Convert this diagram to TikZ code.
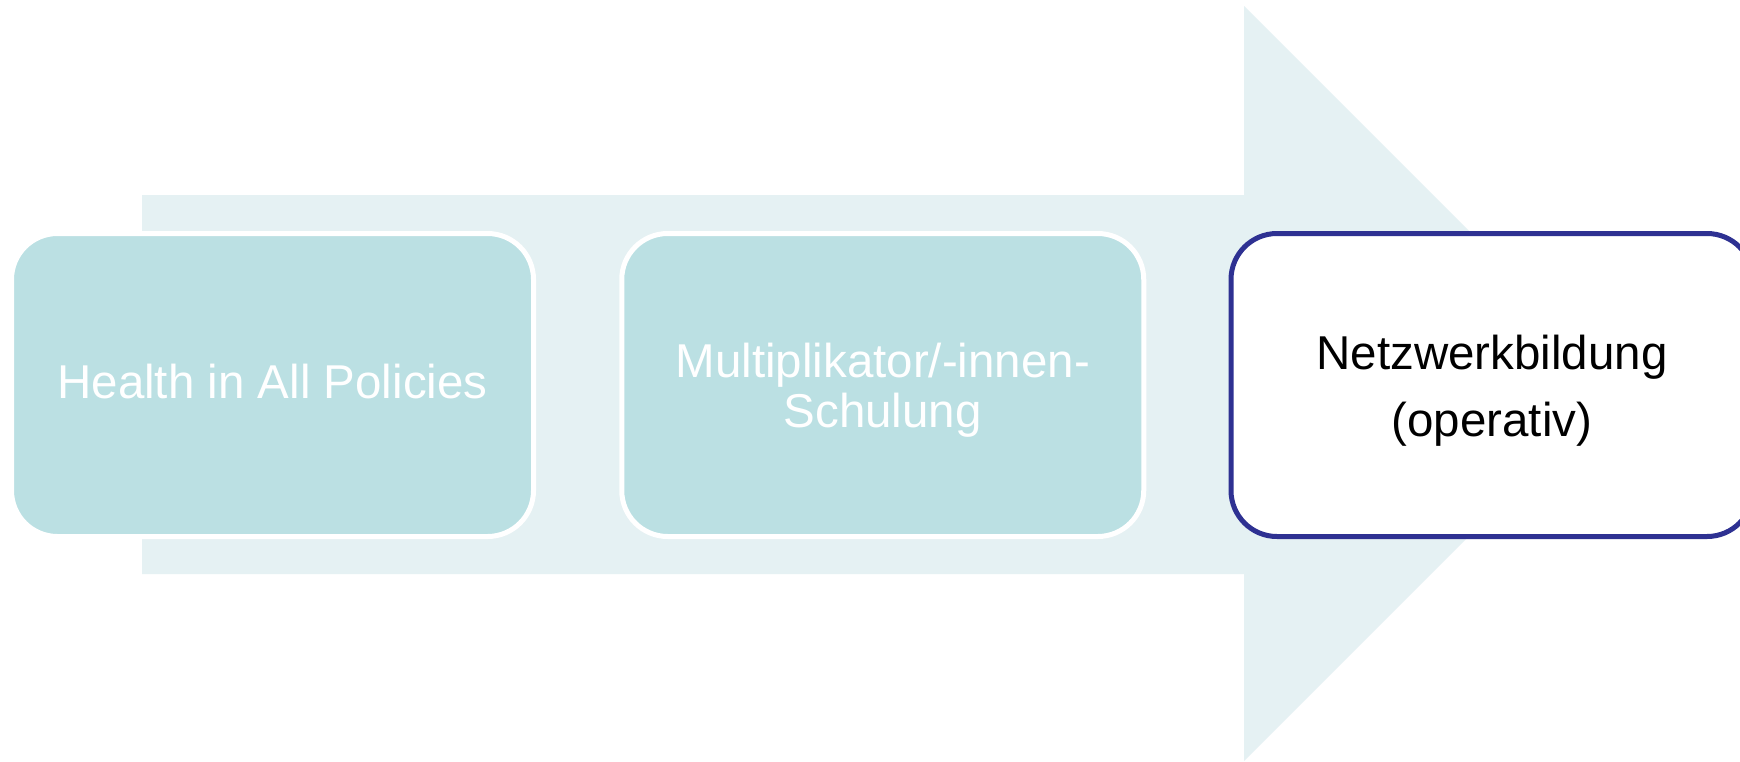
\documentclass[tikz,border=0pt]{standalone}
\usepackage{fontspec}
\setmainfont{Liberation Sans}
\definecolor{arrowfill}{HTML}{E5F1F3}
\definecolor{stepfill}{HTML}{BBE0E3}
\definecolor{activeline}{HTML}{2E3192}
\tikzset{
  procbox/.style={rectangle, rounded corners=46pt, minimum width=522pt,
    minimum height=303pt, inner sep=0pt, line width=5pt},
  donebox/.style={procbox, fill=stepfill, draw=white},
  currentbox/.style={procbox, fill=white, draw=activeline},
  steptext/.style={align=center, inner sep=0pt},
}
\begin{document}
\begin{tikzpicture}[x=1pt,y=-1pt]
  \useasboundingbox (0,0) rectangle (1740,761);
  \fill[white] (0,0) rectangle (1740,761);
  % process arrow in the background
  \fill[arrowfill] (142,195) -- (1244,195) -- (1244,6) -- (1621.5,383.5)
    -- (1244,761) -- (1244,574) -- (142,574) -- cycle;
  % process steps
  \node[donebox] (hiap) at (272.5,385) {};
  \node[donebox] (multi) at (882.75,385) {};
  \node[currentbox] (netz) at (1492,385) {};
  % step labels
  \node[steptext, text=white, font=\fontsize{47.5}{50}\selectfont, yshift=3.5pt]
    (hiaplabel) at (hiap.center) {Health in All Policies};
  \node[steptext, text=white, font=\fontsize{47.5}{50}\selectfont, yshift=-5pt]
    (multilabel) at (multi.center) {Multiplikator/-innen-\\Schulung};
  \node[steptext, text=black, font=\fontsize{47.5}{67}\selectfont, yshift=-5.5pt]
    (netzlabel) at (netz.center) {Netzwerkbildung\\(operativ)};
\end{tikzpicture}
\end{document}
